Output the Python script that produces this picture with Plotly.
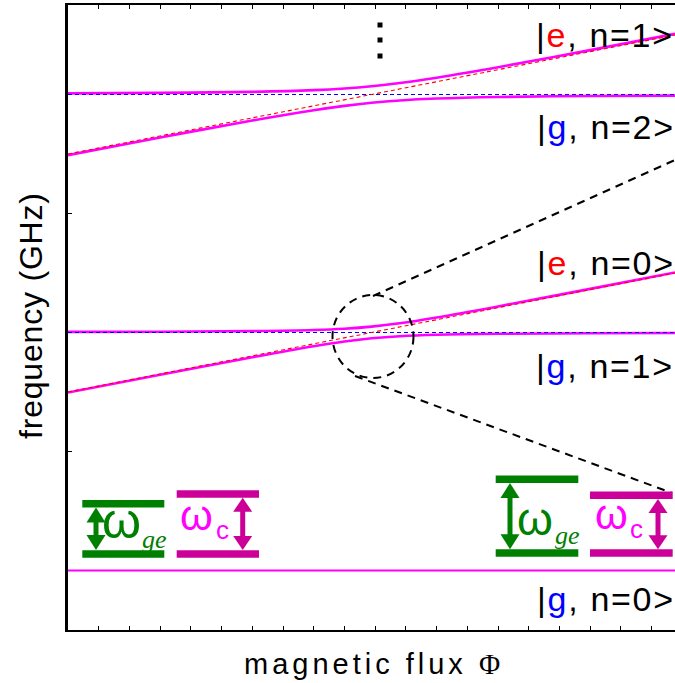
import plotly.graph_objects as go

# ---------------- data ----------------
# magnetic flux (arbitrary units, one tick per unit)
phi_ends = [0.0, 19.76]
phi = [0, 3, 6, 8, 9, 9.885, 10.8, 12, 14, 17, 19.76]

# bare states (frequency, arbitrary GHz units)
g_n0 = [0.0, 0.0]
g_n1 = [1.0, 1.0]
g_n2 = [2.0, 2.0]
e_n0 = [0.75, 1.25]
e_n1 = [1.75, 2.25]

# dressed states (solid magenta curves)
dressed1_up = [1.0024, 1.0034, 1.0058, 1.0103, 1.0157, 1.0245, 1.0386, 1.0630, 1.1096, 1.1832, 1.2524]
dressed1_lo = [0.7476, 0.8225, 0.8959, 0.9420, 0.9619, 0.9755, 0.9845, 0.9905, 0.9945, 0.9967, 0.9976]
dressed2_up = [2.0047, 2.0067, 2.0110, 2.0183, 2.0253, 2.0347, 2.0481, 2.0706, 2.1146, 2.1864, 2.2547]
dressed2_lo = [1.7453, 1.8192, 1.8907, 1.9340, 1.9523, 1.9653, 1.9750, 1.9829, 1.9895, 1.9935, 1.9953]

state_labels = ["e|n=1", "g|n=2", "e|n=0", "g|n=1", "g|n=0"]

# ---------------- layout geometry ----------------
W, H = 675, 683
ML, MR, MT, MB = 68, 0, 5, 53
XR = [0.0, 19.76]
YR = [-0.25, 2.376]
PX_L, PX_R, PX_T, PX_B = ML, W - MR, MT, H - MB


def X(px):
    return XR[0] + (px - PX_L) / (PX_R - PX_L) * (XR[1] - XR[0])


def Y(py):
    return YR[0] + (PX_B - py) / (PX_B - PX_T) * (YR[1] - YR[0])


def XP(px):
    return (px - PX_L) / (PX_R - PX_L)


def YP(py):
    return (PX_B - py) / (PX_B - PX_T)


MAG = "#FF00FF"
MAG_DARK = "#CC0099"
GREEN = "#008000"
SANS = "Liberation Sans, Arial, sans-serif"
SERIF = "Liberation Serif, Times New Roman, serif"

fig = go.Figure()

# solid dressed-state lines
fig.add_trace(go.Scatter(x=phi_ends, y=g_n0, mode="lines",
                         line=dict(color=MAG, width=2.2), hoverinfo="skip"))
for ys in (dressed1_up, dressed1_lo, dressed2_up, dressed2_lo):
    fig.add_trace(go.Scatter(x=phi, y=ys, mode="lines",
                             line=dict(color=MAG, width=2.6, shape="spline", smoothing=1.0),
                             hoverinfo="skip"))
# dashed bare-state lines
for ys in (g_n1, g_n2):
    fig.add_trace(go.Scatter(x=phi_ends, y=ys, mode="lines",
                             line=dict(color="#0000FF", width=1.1, dash="4px,3px"),
                             hoverinfo="skip"))
for ys in (e_n0, e_n1):
    fig.add_trace(go.Scatter(x=phi_ends, y=ys, mode="lines",
                             line=dict(color="#FF0000", width=1.1, dash="4px,3px"),
                             hoverinfo="skip"))

shapes = []

# zoom circle and zoom lines
shapes.append(dict(type="circle", xref="x", yref="y",
                   x0=X(373 - 40.5), x1=X(373 + 40.5), y0=Y(336.5 + 41.5), y1=Y(336.5 - 41.5),
                   line=dict(color="black", width=2, dash="8px,6px")))
shapes.append(dict(type="line", xref="x", yref="y", x0=X(373), y0=Y(296), x1=X(675), y1=Y(160),
                   line=dict(color="black", width=2, dash="8px,6px")))
shapes.append(dict(type="line", xref="x", yref="y", x0=X(355), y0=Y(376), x1=X(672), y1=Y(493),
                   line=dict(color="black", width=2, dash="8px,6px")))

# vertical ellipsis dots
for cy in (25, 40, 56):
    shapes.append(dict(type="rect", xref="x", yref="y", x0=X(377.5), x1=X(382.5),
                       y0=Y(cy + 2.5), y1=Y(cy - 2.5), fillcolor="black", line=dict(width=0)))


def bar(x0, x1, yc, color, th=7.5):
    shapes.append(dict(type="rect", xref="x", yref="y", x0=X(x0), x1=X(x1),
                       y0=Y(yc + th / 2), y1=Y(yc - th / 2), fillcolor=color, line=dict(width=0)))


def arrow(xc, ytop, ybot, color, hw=9.5, hl=15, sw=5):
    shapes.append(dict(type="line", xref="x", yref="y", x0=X(xc), x1=X(xc),
                       y0=Y(ytop + hl - 1), y1=Y(ybot - hl + 1), line=dict(color=color, width=sw)))
    p1 = f"M {X(xc)},{Y(ytop)} L {X(xc - hw)},{Y(ytop + hl)} L {X(xc + hw)},{Y(ytop + hl)} Z"
    p2 = f"M {X(xc)},{Y(ybot)} L {X(xc - hw)},{Y(ybot - hl)} L {X(xc + hw)},{Y(ybot - hl)} Z"
    for p in (p1, p2):
        shapes.append(dict(type="path", xref="x", yref="y", path=p, fillcolor=color,
                           line=dict(color=color, width=0)))


# left inset
bar(82.3, 164.3, 503.7, GREEN)
bar(82.3, 164.3, 553.9, GREEN)
arrow(96, 507.5, 550, GREEN)
bar(176.7, 259, 494, MAG_DARK)
bar(176.7, 259, 553.9, MAG_DARK)
arrow(242.7, 497.7, 550, MAG_DARK, hl=14)

# right inset
bar(495.7, 578.3, 479.2, GREEN)
bar(495.7, 578.3, 553, GREEN)
arrow(510, 483, 549.3, GREEN)
bar(590, 672.7, 495.3, MAG_DARK)
bar(590, 672.7, 553, MAG_DARK)
arrow(658, 499, 549.3, MAG_DARK, hl=14)

annotations = []


def txt(px, py, text, size, color="black", family=SANS, xanchor="center", yanchor="middle", angle=0):
    annotations.append(dict(x=XP(px), y=YP(py), xref="paper", yref="paper", text=text, showarrow=False,
                            xanchor=xanchor, yanchor=yanchor, textangle=angle, borderpad=0,
                            font=dict(size=size, color=color, family=family)))


# state labels
label_pos = [(535, 35), (536, 127), (536, 263), (535, 366), (536, 599)]
for lab, (lx, ly) in zip(state_labels, label_pos):
    q, n = lab.split("|")
    qc = "#FF0000" if q == "e" else "#0000FF"
    txt(lx, ly, f"<span style='letter-spacing:1.7px'>|<span style='color:{qc}'>{q}</span>, {n}></span>",
        34, xanchor="left")

# omega labels (omega anchored at its right, subscript anchored at its left)
txt(142, 521, "ω", 50, GREEN, xanchor="right")
txt(141, 539, "<i>ge</i>", 26, GREEN, family=SERIF, xanchor="left")
txt(214, 515, "ω", 42, MAG, xanchor="right")
txt(215, 530, "c", 26, MAG, xanchor="left")
txt(554, 519, "ω", 46, GREEN, xanchor="right")
txt(554, 535, "<i>ge</i>", 26, GREEN, family=SERIF, xanchor="left")
txt(629, 514, "ω", 42, MAG, xanchor="right")
txt(629, 529, "c", 26, MAG, xanchor="left")

# axis titles
txt(374, 664, "<span style='letter-spacing:4px'>magnetic flux "
              "<span style='font-family:Liberation Serif'>Φ</span></span>", 29)
txt(31, 316, "<span style='letter-spacing:0.8px'>frequency (GHz)</span>", 32, angle=-90)

fig.update_layout(
    width=W, height=H,
    margin=dict(l=ML, r=MR, t=MT, b=MB, pad=0),
    paper_bgcolor="white", plot_bgcolor="white",
    showlegend=False,
    shapes=shapes,
    annotations=annotations,
    xaxis=dict(range=XR, showgrid=False, zeroline=False, showticklabels=False,
               showline=True, linecolor="black", linewidth=2, mirror="ticks",
               ticks="inside", ticklen=4, tickwidth=1, tickcolor="black", dtick=1, tick0=0),
    yaxis=dict(range=YR, showgrid=False, zeroline=False, showticklabels=False,
               showline=True, linecolor="black", linewidth=3, mirror=False,
               ticks="inside", ticklen=4, tickwidth=1, tickcolor="black",
               tickvals=[0.5, 1.5]),
)

fig.write_html("out.html", config={"displayModeBar": False},
               post_script="document.body.style.margin='0';document.body.style.overflow='hidden';")
